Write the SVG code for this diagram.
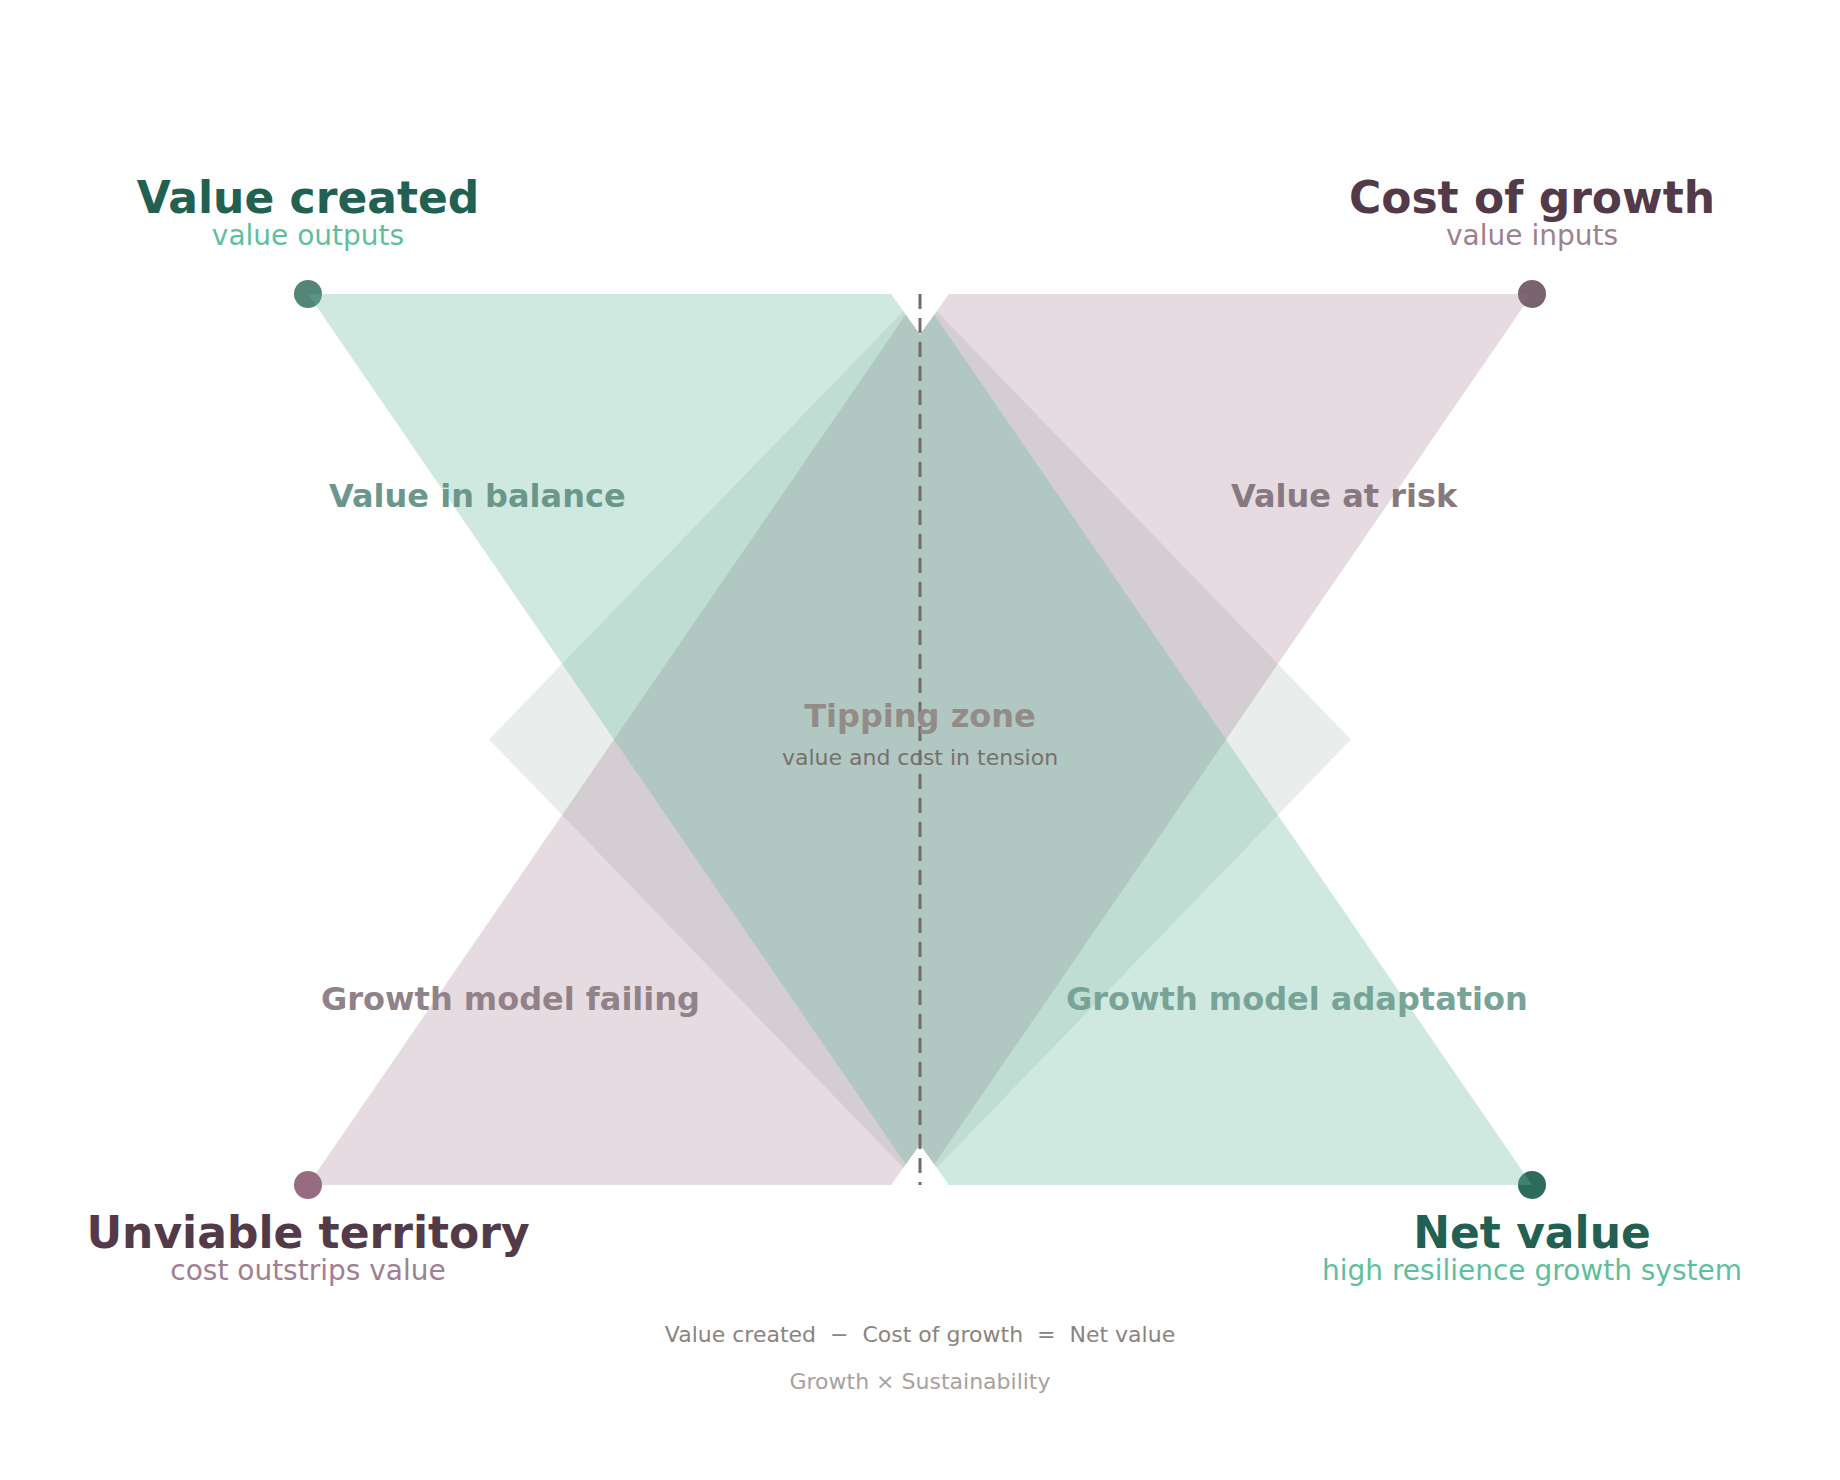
<svg xmlns="http://www.w3.org/2000/svg" width="1840" height="1480" viewBox="0 0 1840 1480">
  <style>
    text { font-family: "DejaVu Sans", "Liberation Sans", sans-serif; }
    .title { font-size: 44px; font-weight: bold; text-anchor: middle; }
    .sub { font-size: 28px; text-anchor: middle; }
    .quad { font-size: 32px; font-weight: bold; }
    .green-t { fill: #226152; }
    .purple-t { fill: #523a48; }
    .green-s { fill: #5fbf9d; }
    .purple-s { fill: #a0808f; }
    .band-green { fill: #64b89b; fill-opacity: 0.31; }
    .band-pink { fill: #976f83; fill-opacity: 0.25; }
    .zone { fill: #91aaa0; fill-opacity: 0.2; }
    .notch { fill: #ffffff; }
    .axis { stroke: #726d6a; stroke-width: 3; stroke-dasharray: 15 9; fill: none; }
  </style>
  <rect width="1840" height="1480" fill="#ffffff"/>

  <g id="corner-dots">
    <circle cx="308" cy="294" r="14" fill="#538677"/>
    <circle cx="1532" cy="294" r="14" fill="#79636f"/>
    <circle cx="308" cy="1185" r="14" fill="#976c80"/>
    <circle cx="1532" cy="1185" r="14" fill="#2e6b5c"/>
  </g>

  <g id="tipping-zone-shape">
    <polygon class="zone" points="489,739.5 920,294 1351,739.5 920,1185"/>
  </g>
  <g id="cost-band">
    <polygon class="band-pink" points="1532,294 920,294 308,1185 920,1185"/>
  </g>
  <g id="value-band">
    <polygon class="band-green" points="308,294 920,294 1532,1185 920,1185"/>
  </g>
  <g id="gap-notches">
    <polygon class="notch" points="891,294 949,294 920,334.5"/>
    <polygon class="notch" points="891,1185 949,1185 920,1144.5"/>
  </g>

  <g id="connectors">
    <line class="axis" x1="920" y1="294" x2="920" y2="1185"/>
  </g>

  <g id="node-value-created">
    <text class="title green-t" x="308" y="213">Value created</text>
    <text class="sub green-s" x="308" y="245">value outputs</text>
  </g>
  <g id="node-cost-of-growth">
    <text class="title purple-t" x="1532" y="213">Cost of growth</text>
    <text class="sub purple-s" x="1532" y="245">value inputs</text>
  </g>
  <g id="node-unviable-territory">
    <text class="title purple-t" x="308" y="1248">Unviable territory</text>
    <text class="sub purple-s" x="308" y="1280">cost outstrips value</text>
  </g>
  <g id="node-net-value">
    <text class="title green-t" x="1532" y="1248">Net value</text>
    <text class="sub green-s" x="1532" y="1280">high resilience growth system</text>
  </g>

  <g id="label-value-in-balance">
    <text class="quad" x="329" y="507" fill="#6b978a">Value in balance</text>
  </g>
  <g id="label-value-at-risk">
    <text class="quad" x="1231" y="507" fill="#887880">Value at risk</text>
  </g>
  <g id="label-growth-model-failing">
    <text class="quad" x="321" y="1010" fill="#918289">Growth model failing</text>
  </g>
  <g id="label-growth-model-adaptation">
    <text class="quad" x="1066" y="1010" fill="#78a397">Growth model adaptation</text>
  </g>

  <g id="label-tipping-zone">
    <text x="920" y="727" text-anchor="middle" font-size="32" font-weight="bold" fill="#928b87">Tipping zone</text>
    <text x="920" y="765" text-anchor="middle" font-size="22" fill="#77716e">value and cost in tension</text>
  </g>

  <g id="footer">
    <text x="920" y="1342" text-anchor="middle" font-size="22" fill="#8a8480" xml:space="preserve">Value created  −  Cost of growth  =  Net value</text>
    <text x="920" y="1389" text-anchor="middle" font-size="22" fill="#a8a29e">Growth × Sustainability</text>
  </g>
</svg>
